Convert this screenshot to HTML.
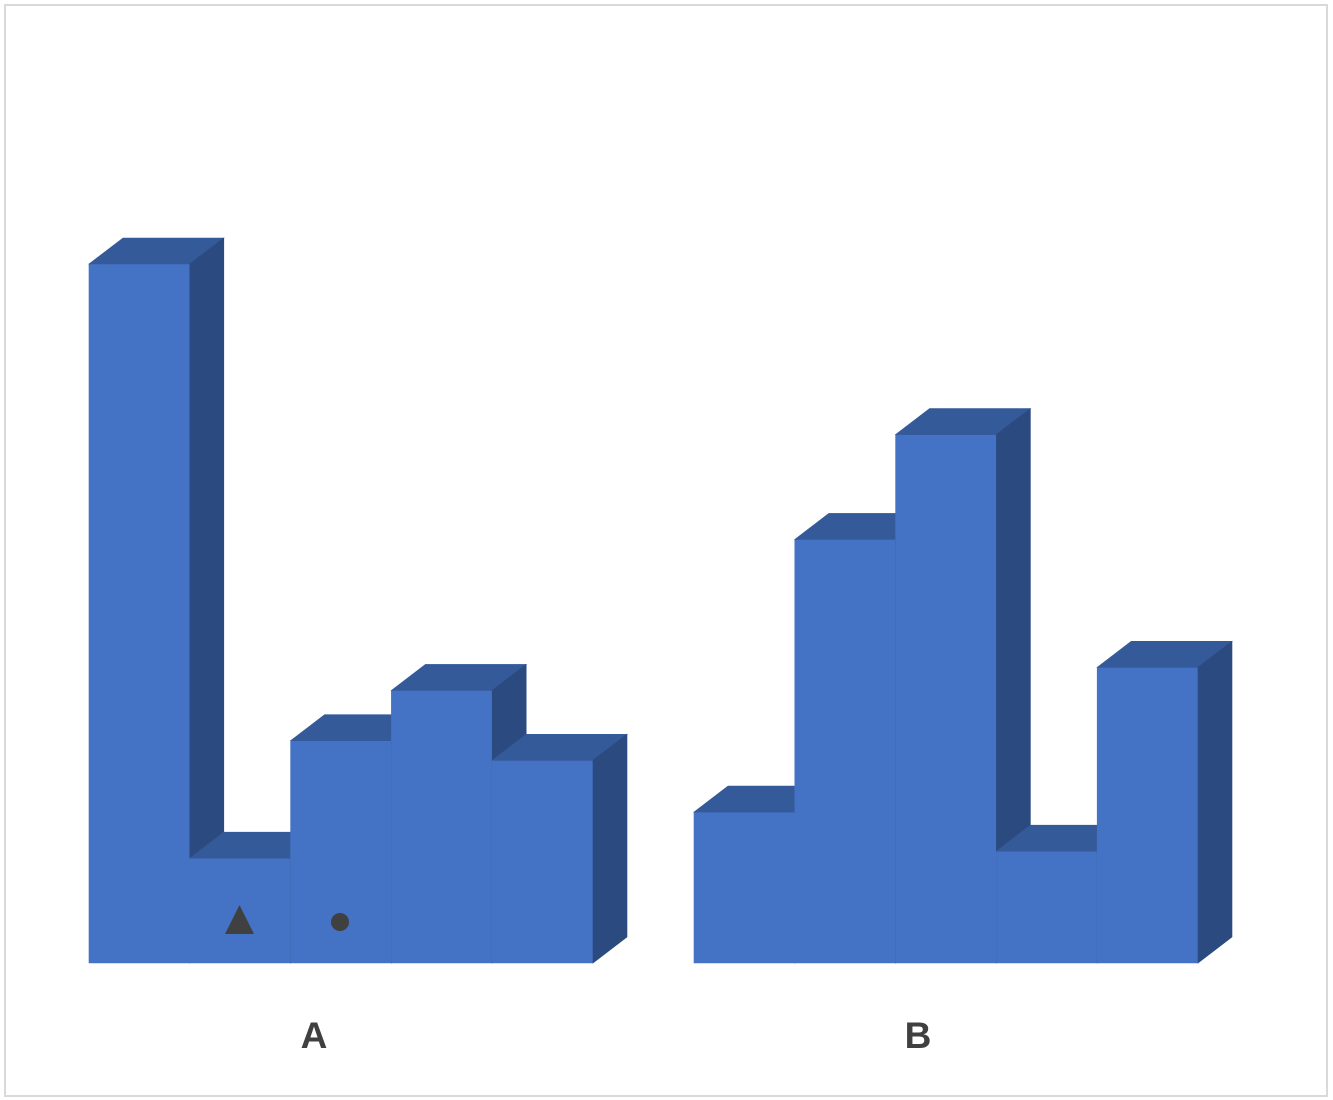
<!DOCTYPE html>
<html><head><meta charset="utf-8"><style>
html,body{margin:0;padding:0;background:#fff;}
svg{display:block;}
</style></head><body>
<svg id="chart" width="1333" height="1100" xmlns="http://www.w3.org/2000/svg">
<rect x="5" y="5" width="1322" height="1091" fill="#fff" stroke="#d9d9d9" stroke-width="2"/>
<g id="bars"></g>
<polygon points="225,934 254,934 239.5,905" fill="#404040"/>
<circle cx="340" cy="922" r="9" fill="#404040"/>
<text x="314" y="1048" text-anchor="middle" font-family="Liberation Sans, sans-serif" font-weight="bold" font-size="37" fill="#404040">A</text>
<text x="918" y="1048" text-anchor="middle" font-family="Liberation Sans, sans-serif" font-weight="bold" font-size="37" fill="#404040">B</text>
</svg>
<script>
const categories = ["A","B"];
const valuesA = [100,15,31.8,39,29];
const valuesB = [21.6,60.6,75.6,16,42.3];
const series = [valuesA, valuesB];
const groupStart = [89, 694];
const barW = 100.8, baseY = 963, pxPerUnit = 6.99, dx = 34, dy = -26;
function y(v){ return baseY - v*pxPerUnit; }
const g = document.getElementById('bars');
const NS = "http://www.w3.org/2000/svg";
function poly(pts, fill, name){
  const p = document.createElementNS(NS,'polygon');
  p.setAttribute('points', pts.map(q=>q.join(',')).join(' '));
  p.setAttribute('fill', fill);
  p.setAttribute('stroke', fill);
  p.setAttribute('stroke-width', '0.6');
  
  
  g.appendChild(p);
}
series.forEach((vals, ci)=>{
  vals.forEach((v, i)=>{
    const x0 = groupStart[ci] + i*barW, x1 = x0 + barW, yt = y(v);
    poly([[x0,baseY],[x1,baseY],[x1,yt],[x0,yt]], '#4472C4', 'bar-front');
    poly([[x0,yt],[x1,yt],[x1+dx,yt+dy],[x0+dx,yt+dy]], '#355A99', 'bar-top');
    poly([[x1,baseY],[x1,yt],[x1+dx,yt+dy],[x1+dx,baseY+dy]], '#2A4A80', 'bar-side');
  });
});
</script>
</body></html>
